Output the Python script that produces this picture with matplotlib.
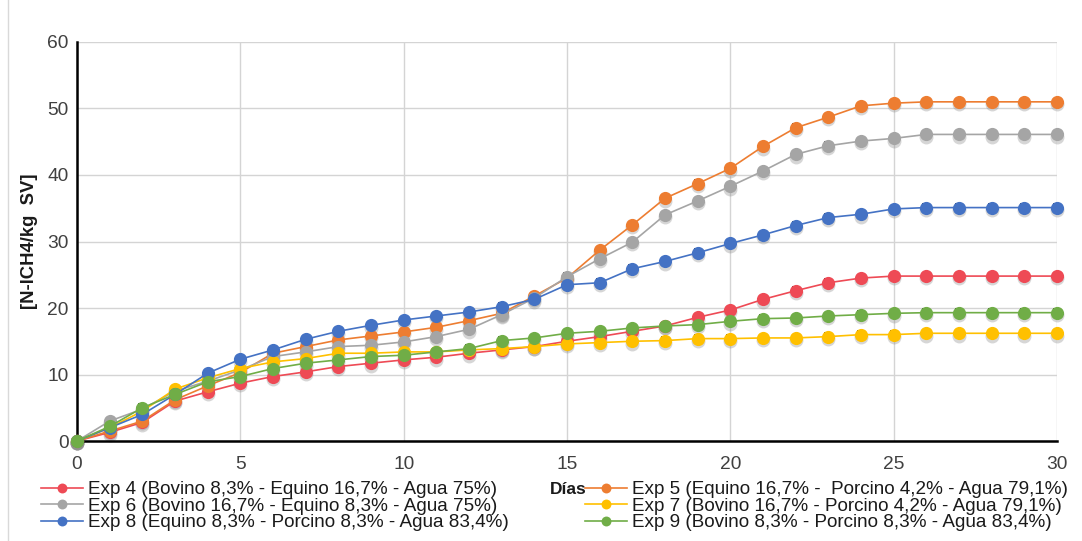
import matplotlib
matplotlib.use("Agg")
import matplotlib.pyplot as plt
from matplotlib.patches import Rectangle

plt.rcParams['font.family'] = ['Liberation Sans', 'DejaVu Sans']

days = list(range(0, 31))

exp4 = [0, 1.3, 2.8, 6.0, 7.4, 8.7, 9.7, 10.4, 11.2, 11.7, 12.2, 12.6, 13.2, 13.7, 14.2, 15.0,
        15.7, 16.5, 17.3, 18.6, 19.7, 21.3, 22.6, 23.8, 24.5, 24.8, 24.8, 24.8, 24.8, 24.8, 24.8]
exp5 = [0, 1.5, 3.0, 6.2, 8.3, 10.3, 13.2, 14.2, 15.2, 15.8, 16.4, 17.1, 18.1, 19.2, 21.8, 24.5,
        28.7, 32.5, 36.5, 38.7, 41.0, 44.3, 47.1, 48.7, 50.4, 50.8, 51.0, 51.0, 51.0, 51.0, 51.0]
exp6 = [0, 3.0, 4.8, 7.5, 9.0, 10.7, 12.7, 13.4, 14.2, 14.4, 14.9, 15.7, 16.8, 19.0, 21.5, 24.7,
        27.4, 29.9, 34.0, 36.1, 38.3, 40.6, 43.1, 44.4, 45.1, 45.5, 46.1, 46.1, 46.1, 46.1, 46.1]
exp7 = [0, 2.0, 4.5, 7.8, 9.5, 10.9, 11.9, 12.4, 13.2, 13.2, 13.4, 13.4, 13.7, 13.9, 14.2, 14.6,
        14.8, 15.0, 15.1, 15.4, 15.4, 15.5, 15.5, 15.7, 16.0, 16.0, 16.2, 16.2, 16.2, 16.2, 16.2]
exp8 = [0, 2.0, 4.0, 7.0, 10.2, 12.3, 13.7, 15.3, 16.5, 17.4, 18.2, 18.8, 19.4, 20.2, 21.3, 23.5,
        23.8, 25.9, 27.0, 28.3, 29.7, 31.0, 32.4, 33.6, 34.1, 34.9, 35.1, 35.1, 35.1, 35.1, 35.1]
exp9 = [0, 2.2, 5.0, 7.0, 8.9, 9.7, 10.9, 11.7, 12.2, 12.7, 12.9, 13.4, 13.9, 15.1, 15.5, 16.2,
        16.5, 17.0, 17.3, 17.5, 18.0, 18.4, 18.5, 18.8, 19.0, 19.2, 19.3, 19.3, 19.3, 19.3, 19.3]

labels = {
    'exp4': 'Exp 4 (Bovino 8,3% - Equino 16,7% - Agua 75%)',
    'exp5': 'Exp 5 (Equino 16,7% -  Porcino 4,2% - Agua 79,1%)',
    'exp6': 'Exp 6 (Bovino 16,7% - Equino 8,3% - Agua 75%)',
    'exp7': 'Exp 7 (Bovino 16,7% - Porcino 4,2% - Agua 79,1%)',
    'exp8': 'Exp 8 (Equino 8,3% - Porcino 8,3% - Agua 83,4%)',
    'exp9': 'Exp 9 (Bovino 8,3% - Porcino 8,3% - Agua 83,4%)',
}
colors = {
    'exp4': '#EE4A55', 'exp5': '#ED7D31', 'exp6': '#A5A5A5',
    'exp7': '#FFC000', 'exp8': '#4472C4', 'exp9': '#70AD47',
}
series = {'exp4': exp4, 'exp5': exp5, 'exp6': exp6, 'exp7': exp7, 'exp8': exp8, 'exp9': exp9}
err = 0.5

fig = plt.figure(figsize=(10.82, 5.41), dpi=100)
ax = fig.add_axes([0.0712, 0.1848, 0.9057, 0.7376])

handles = {}
for key in ['exp4', 'exp5', 'exp6', 'exp7', 'exp8', 'exp9']:
    y = series[key]
    ax.errorbar(days, y, yerr=err, fmt='none', ecolor='black', elinewidth=0.8,
                capsize=3, capthick=1.2, zorder=2, clip_on=False)
    # soft shadow
    ax.plot(days, [v - 0.35 for v in y], 'o', color='#8a8a8a', alpha=0.35,
            markersize=10, markeredgewidth=0, zorder=2.5, clip_on=False)
    ln, = ax.plot(days, y, '-o', color=colors[key], lw=1.2, markersize=9.5,
                  markeredgewidth=0, zorder=3, clip_on=False, label=labels[key])
    handles[key] = ln

ax.set_xlim(0, 30)
ax.set_ylim(0, 60)
ax.set_xticks(range(0, 31, 5))
ax.set_yticks(range(0, 61, 10))
ax.grid(True, color='#d4d4d4', lw=1.0)
ax.set_axisbelow(True)
for s in ['top', 'right']:
    ax.spines[s].set_visible(False)
for s in ['left', 'bottom']:
    ax.spines[s].set_linewidth(1.8)
    ax.spines[s].set_color('black')
ax.tick_params(axis='both', length=0, labelsize=13.8, colors='#404040', pad=6)
ax.tick_params(axis='x', pad=11)

ax.set_ylabel('[N-lCH4/kg  SV]', fontsize=13.3, fontweight='bold', color='#1a1a1a', labelpad=2)
ax.yaxis.set_label_coords(-0.040, 0.5)

fig.text(0.5083, 0.096, 'Días', fontsize=12.5, fontweight='bold', color='#1a1a1a',
         ha='left', va='center')

leg_kw = dict(frameon=False, fontsize=13.6, labelspacing=-0.03, handlelength=2.2,
              handletextpad=0.28, markerscale=0.75, borderpad=0, borderaxespad=0,
              labelcolor='#1a1a1a')
leg1 = fig.legend([handles[k] for k in ['exp4', 'exp6', 'exp8']],
                  [labels[k] for k in ['exp4', 'exp6', 'exp8']],
                  loc='upper left', bbox_to_anchor=(0.038, 0.111), **leg_kw)
leg2 = fig.legend([handles[k] for k in ['exp5', 'exp7', 'exp9']],
                  [labels[k] for k in ['exp5', 'exp7', 'exp9']],
                  loc='upper left', bbox_to_anchor=(0.541, 0.111), **leg_kw)

fig.patches.append(Rectangle((0.007, -0.01), 1.2, 1.2, transform=fig.transFigure,
                             fill=False, edgecolor='#d9d9d9', lw=1.0))

fig.savefig('out.png', dpi=100)
